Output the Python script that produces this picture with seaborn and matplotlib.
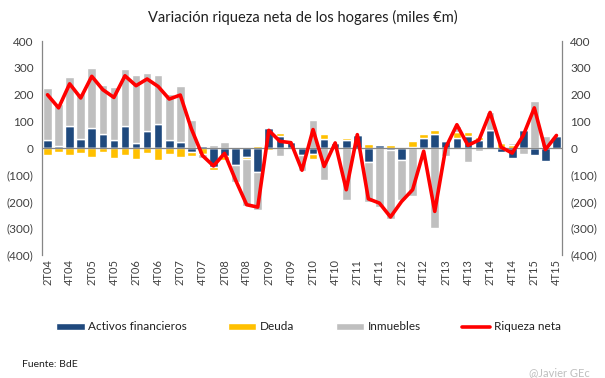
import numpy as np
import seaborn as sns
import matplotlib
matplotlib.use("Agg")
import matplotlib.pyplot as plt
from matplotlib.ticker import FuncFormatter, MultipleLocator

# Datos (miles de millones de euros), 2T04 - 4T15
trimestres = ["2T04", "3T04", "4T04",
              "1T05", "2T05", "3T05", "4T05",
              "1T06", "2T06", "3T06", "4T06",
              "1T07", "2T07", "3T07", "4T07",
              "1T08", "2T08", "3T08", "4T08",
              "1T09", "2T09", "3T09", "4T09",
              "1T10", "2T10", "3T10", "4T10",
              "1T11", "2T11", "3T11", "4T11",
              "1T12", "2T12", "3T12", "4T12",
              "1T13", "2T13", "3T13", "4T13",
              "1T14", "2T14", "3T14", "4T14",
              "1T15", "2T15", "3T15", "4T15"]

activos = [31, 6, 83,
           35, 76, 54, 31,
           83, 20, 65, 91,
           31, 24, -16, 9,
           -72, -31, -62, -35,
           -91, 76, 44, 22,
           -27, -21, 35, 19,
           31, 50, -51, 11,
           -9, -44, 5, 39,
           54, 27, 37, 46,
           31, 66, -16, -37,
           66, -27, -50, 46]

deuda = [-27, -16, -27,
         -20, -35, -16, -39,
         -27, -42, -20, -44,
         -22, -35, -15, -22,
         -9, -12, 5, -5,
         9, -6, 11, 0,
         5, -19, 16, 2,
         7, 4, 14, 4,
         10, 0, 22, 12,
         12, 4, 21, 14,
         9, 0, 19, 12,
         2, 0, 3, 4]

inmuebles = [194, 160, 184,
             172, 224, 183, 198,
             212, 254, 215, 183,
             172, 209, 103, -15,
             12, 24, -66, -176,
             -140, 0, -31, -2,
             -60, 106, -118, 0,
             -196, 0, -152, -221,
             -256, -150, -178, -3,
             -299, -31, 25, -54,
             -12, 67, 0, 6,
             -22, 177, 41, 0]

riqueza = [199, 150, 240,
           187, 268, 218, 189,
           270, 233, 258, 230,
           183, 198, 72, -28,
           -67, -20, -120, -212,
           -221, 66, 25, 20,
           -83, 69, -69, 19,
           -156, 50, -190, -206,
           -258, -200, -156, -12,
           -237, 2, 87, 10,
           30, 133, 3, -19,
           47, 150, -6, 47]

series = [("Activos financieros", activos, "#1F497D"),
          ("Deuda", deuda, "#FFC000"),
          ("Inmuebles", inmuebles, "#BFBFBF")]

sns.set_style("white")
plt.rcParams["font.family"] = ["Lato", "DejaVu Sans"]

fig = plt.figure(figsize=(6.05, 3.78), dpi=100)
ax = fig.add_axes([0.0694, 0.3254, 0.8595, 0.5661])

# columnas apiladas como en Excel (positivos hacia arriba, negativos hacia abajo)
pos = np.zeros(len(trimestres))
neg = np.zeros(len(trimestres))
for nombre, valores, color in series:
    v = np.array(valores, dtype=float)
    base = np.where(v >= 0, pos, neg)
    sns.barplot(x=trimestres, y=v, bottom=base, color=color, width=0.78,
                errorbar=None, saturation=1, label=nombre, ax=ax, zorder=2)
    pos = pos + np.where(v >= 0, v, 0)
    neg = neg + np.where(v < 0, v, 0)

ax.axhline(0, color="#868686", lw=0.9, zorder=3)
sns.lineplot(x=np.arange(len(trimestres)), y=riqueza, color="#FF0000", lw=2.6,
             label="Riqueza neta", ax=ax, zorder=4)

ax.set_xlim(-0.5, len(trimestres) - 0.5)
ax.set_ylim(-400, 400)
ax.yaxis.set_major_locator(MultipleLocator(100))
ax.yaxis.set_major_formatter(FuncFormatter(
    lambda v, p: f"({abs(v):.0f})" if v < 0 else f"{v:.0f}"))
ax.set_xticks(np.arange(0, len(trimestres), 2))
ax.set_xticklabels(trimestres[::2], rotation=90)
ax.tick_params(axis="y", labelsize=8.5, colors="#404040", length=0,
               labelright=True, pad=6)
ax.tick_params(axis="x", labelsize=8, colors="#404040", length=0, pad=3)
ax.set_xlabel("")
ax.set_ylabel("")

for s in ["top", "bottom"]:
    ax.spines[s].set_visible(False)
for s in ["left", "right"]:
    ax.spines[s].set_color("#868686")
    ax.spines[s].set_linewidth(0.9)

# la linea de riqueza va al final de la leyenda
h, l = ax.get_legend_handles_labels()
h = h[1:] + h[:1]
l = l[1:] + l[:1]
ax.legend(h, l, loc="center", bbox_to_anchor=(0.51, 0.135),
          bbox_transform=fig.transFigure, ncol=4, frameon=False,
          fontsize=8.5, handlelength=2.4, handleheight=0.5,
          handletextpad=0.3, columnspacing=3.5, labelcolor="#202020")

fig.text(0.5, 0.955, "Variación riqueza neta de los hogares (miles €m)",
         ha="center", va="center", fontsize=10.5, color="#202020")
fig.text(0.036, 0.035, "Fuente: BdE", ha="left", va="center",
         fontsize=7.5, color="#202020")
fig.text(0.975, 0.015, "@Javier GEc", ha="right", va="center",
         fontsize=8, color="#BFBFBF")

fig.savefig("out.png", dpi=100)
